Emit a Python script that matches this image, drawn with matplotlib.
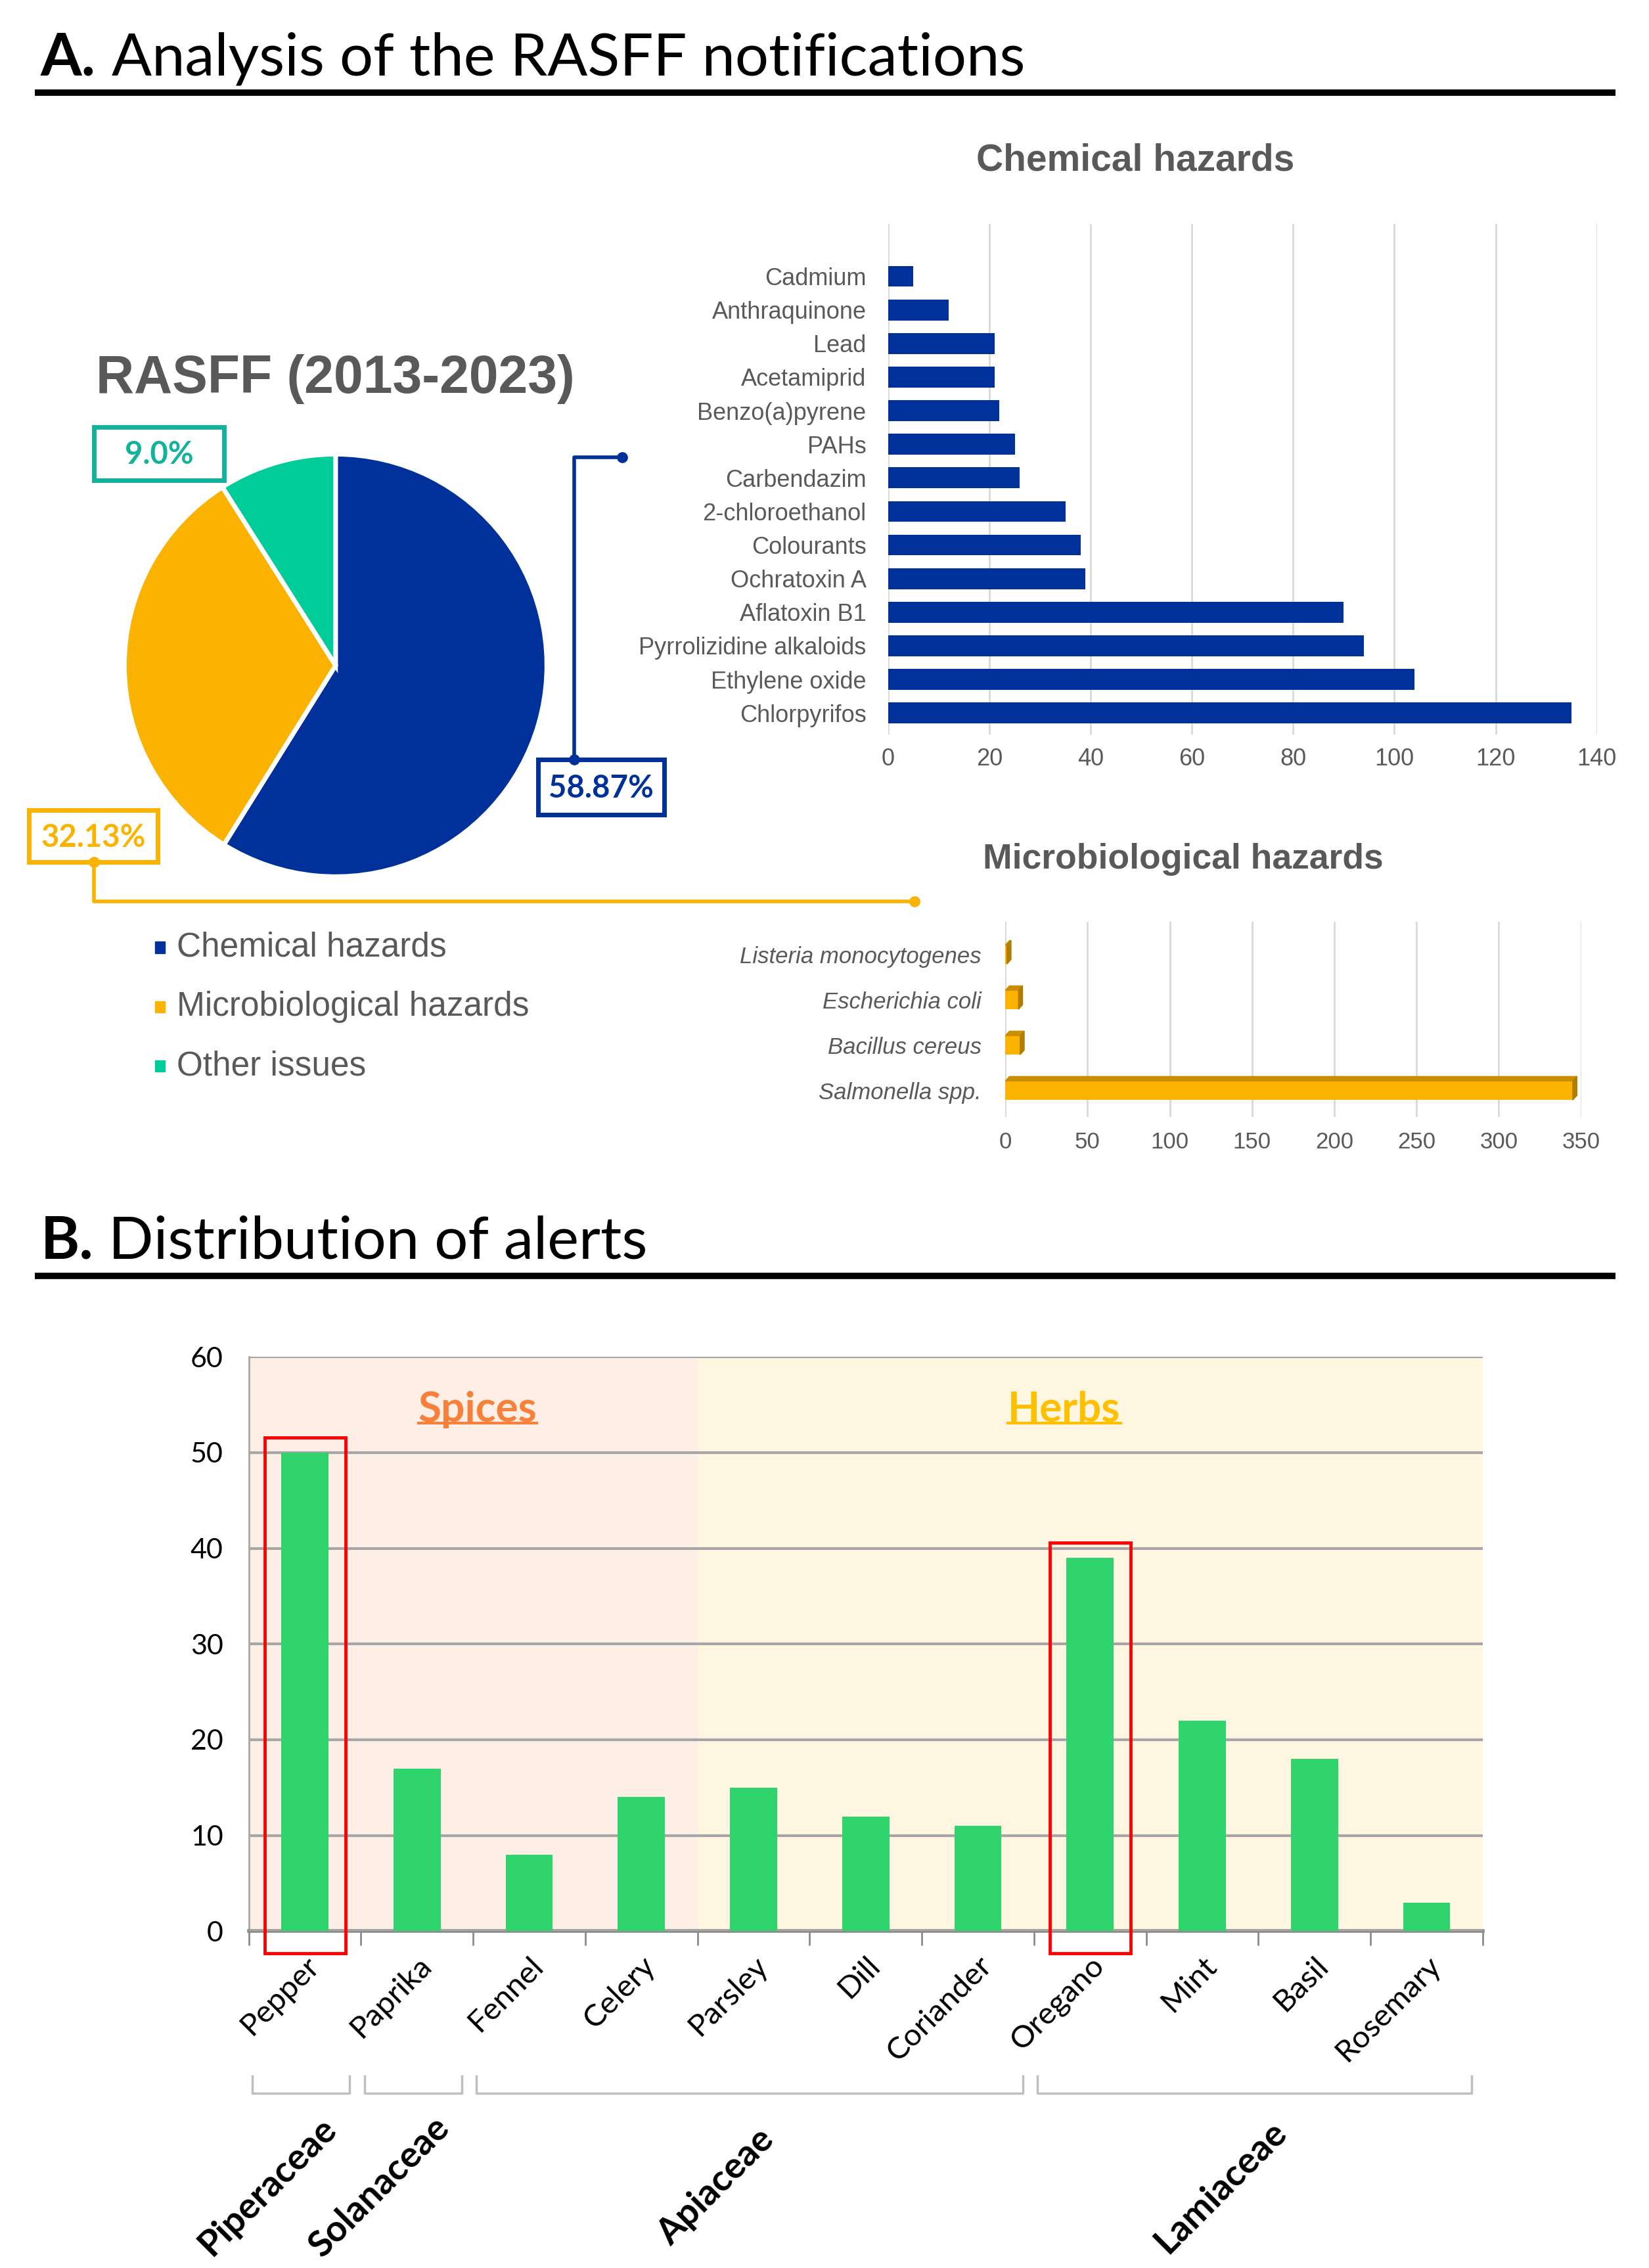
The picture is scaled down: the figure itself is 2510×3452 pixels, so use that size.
import matplotlib
matplotlib.use("Agg")
import matplotlib.pyplot as plt
import matplotlib.transforms as mtransforms
from matplotlib.patches import Rectangle, Polygon
from matplotlib.lines import Line2D
import numpy as np

# ---------------- data ----------------
pie_labels = ["Chemical hazards", "Microbiological hazards", "Other issues"]
pie_values = [58.87, 32.13, 9.0]
pie_texts = ["58.87%", "32.13%", "9.0%"]

chem_names = ["Cadmium", "Anthraquinone", "Lead", "Acetamiprid", "Benzo(a)pyrene",
              "PAHs", "Carbendazim", "2-chloroethanol", "Colourants", "Ochratoxin A",
              "Aflatoxin B1", "Pyrrolizidine alkaloids", "Ethylene oxide", "Chlorpyrifos"]
chem_counts = [5, 12, 21, 21, 22, 25, 26, 35, 38, 39, 90, 94, 104, 135]
chem_ticks = [0, 20, 40, 60, 80, 100, 120, 140]

micro_names = ["Listeria monocytogenes", "Escherichia coli", "Bacillus cereus", "Salmonella spp."]
micro_counts = [1, 8, 9, 345]
micro_ticks = [0, 50, 100, 150, 200, 250, 300, 350]

plants = ["Pepper", "Paprika", "Fennel", "Celery", "Parsley", "Dill", "Coriander",
          "Oregano", "Mint", "Basil", "Rosemary"]
alerts = [50, 17, 8, 14, 15, 12, 11, 39, 22, 18, 3]
alert_ticks = [0, 10, 20, 30, 40, 50, 60]
n_spices = 4
highlighted = ["Pepper", "Oregano"]
families = ["Piperaceae", "Solanaceae", "Apiaceae", "Lamiaceae"]
family_first = [0, 1, 2, 7]
family_last = [0, 1, 6, 10]

# ---------------- style ----------------
NAVY = "#00309A"
YELLOW = "#FBB300"
TEAL = "#00CC99"
TEAL_TXT = "#12B39A"
GREY = "#595959"
GREEN = "#30D46C"
TITLE_FONT = ["Lato", "DejaVu Sans"]
CHART_FONT = ["Liberation Sans", "DejaVu Sans"]

W, H = 2510, 3452
S = W / 1140.0          # reference layout units -> pixels


def box(l, t, r, b):
    return [l * S / W, 1 - b * S / H, (r - l) * S / W, (b - t) * S / H]


fig = plt.figure(figsize=(W / 100, H / 100), dpi=100)
fig.patch.set_facecolor("white")

# overlay axes in layout units (y downwards)
ov = fig.add_axes([0, 0, 1, 1])
ov.set_xlim(0, W / S)
ov.set_ylim(H / S, 0)
ov.axis("off")
ov.set_zorder(10)

# section headers
for y_text, y_line, head, rest, x_rest in [(52, 64, "A.", "Analysis of the RASFF notifications", 77),
                                           (870, 882, "B.", "Distribution of alerts", 75)]:
    ov.text(28, y_text, head, fontsize=65, fontweight="bold", family=TITLE_FONT, va="baseline")
    ov.text(x_rest, y_text, rest, fontsize=65, family=TITLE_FONT, va="baseline")
    ov.add_line(Line2D([24, 1117], [y_line, y_line], color="black", lw=7, solid_capstyle="butt"))

# ---------------- pie ----------------
ax_pie = fig.add_axes(box(86, 314, 378, 606))
ax_pie.pie(pie_values, colors=[NAVY, YELLOW, TEAL], startangle=90, counterclock=False,
           wedgeprops=dict(edgecolor="white", linewidth=5))
ax_pie.set_xlim(-1.0, 1.0)
ax_pie.set_ylim(-1.0, 1.0)
ax_pie.set_aspect("equal")

ov.text(232, 262, "RASFF (2013-2023)", fontsize=58, fontweight="bold", color=GREY,
        family=CHART_FONT, ha="center", va="center")

# label boxes + connectors
label_boxes = [(372, 525, 459, 563, NAVY, NAVY), (20, 560, 109, 596, YELLOW, YELLOW),
               (65, 295, 155, 332, TEAL_TXT, TEAL_TXT)]
for (l, t, r, b, ec, tc), txt in zip(label_boxes, pie_texts):
    ov.add_patch(Rectangle((l, t), r - l, b - t, fill=False, edgecolor=ec, lw=5))
    ov.text((l + r) / 2, (t + b) / 2 + 1, txt, fontsize=34, fontweight="bold", color=tc,
            family=TITLE_FONT, ha="center", va="center")

ov.plot([397, 397, 430], [525, 316, 316], color=NAVY, lw=4)
ov.plot([397, 430], [525, 316], "o", color=NAVY, ms=11)
ov.plot([65, 65, 632], [596, 623, 623], color=YELLOW, lw=4)
ov.plot([65, 632], [596, 623], "o", color=YELLOW, ms=11)

# legend
for lab, col, y in zip(pie_labels, [NAVY, YELLOW, TEAL], [655, 696, 737]):
    ov.add_patch(Rectangle((107, y - 4), 7, 8, color=col))
    ov.text(122, y, lab, fontsize=37, color=GREY, family=CHART_FONT, va="center")

# ---------------- chemical hazards ----------------
ax_c = fig.add_axes(box(614, 155, 1104, 508))
yc = np.arange(len(chem_names))
ax_c.barh(yc, chem_counts, height=0.62, color=NAVY, zorder=3)
ax_c.set_xlim(0, 140)
ax_c.set_ylim(len(chem_names) - 1 + 0.65, -1.55)
ax_c.set_xticks(chem_ticks)
ax_c.set_yticks(yc)
ax_c.set_yticklabels(chem_names)
ax_c.grid(axis="x", color="#D9D9D9", lw=2, zorder=0)
for sp in ax_c.spines.values():
    sp.set_visible(False)
ax_c.tick_params(axis="y", length=0, labelsize=26, labelcolor=GREY, pad=24)
ax_c.tick_params(axis="x", length=0, labelsize=26, labelcolor=GREY, pad=14)
for t in ax_c.get_xticklabels() + ax_c.get_yticklabels():
    t.set_family(CHART_FONT)
ax_c.set_facecolor("none")
ov.text(785, 111, "Chemical hazards", fontsize=41, fontweight="bold", color=GREY,
        family=CHART_FONT, ha="center", va="center")

# ---------------- microbiological hazards ----------------
ax_m = fig.add_axes(box(695, 637, 1093, 772))
ym = np.arange(len(micro_names))
bh = 0.42
dx, dy = 2.5, 0.1
ax_m.barh(ym, micro_counts, height=bh, color=YELLOW, zorder=3)
for y, v in zip(ym, micro_counts):
    top = y - bh / 2
    ax_m.add_patch(Polygon([(0, top), (v, top), (v + dx, top - dy), (dx, top - dy)],
                           closed=True, color="#C98F00", zorder=3))
    ax_m.add_patch(Polygon([(v, top), (v + dx, top - dy), (v + dx, y + bh / 2 - dy), (v, y + bh / 2)],
                           closed=True, color="#B07D00", zorder=3))
ax_m.set_xlim(0, 350)
ax_m.set_ylim(len(micro_names) - 1 + 0.58, -0.73)
ax_m.set_xticks(micro_ticks)
ax_m.set_yticks(ym)
ax_m.set_yticklabels(micro_names)
ax_m.grid(axis="x", color="#D9D9D9", lw=2, zorder=0)
for sp in ax_m.spines.values():
    sp.set_visible(False)
ax_m.tick_params(axis="y", length=0, labelsize=25, labelcolor=GREY, pad=26)
ax_m.tick_params(axis="x", length=0, labelsize=25, labelcolor=GREY, pad=16)
for t in ax_m.get_xticklabels():
    t.set_family(CHART_FONT)
for t in ax_m.get_yticklabels():
    t.set_family(CHART_FONT)
    t.set_style("italic")
ax_m.set_facecolor("none")
ov.text(818, 594, "Microbiological hazards", fontsize=38.5, fontweight="bold", color=GREY,
        family=CHART_FONT, ha="center", va="center")

# ---------------- B: distribution of alerts ----------------
ax_b = fig.add_axes(box(172, 938, 1025, 1335))
xb = np.arange(len(plants))
ax_b.axvspan(-0.5, n_spices - 0.5, color="#FDEEE6", zorder=0)
ax_b.axvspan(n_spices - 0.5, len(plants) - 0.5, color="#FEF6E1", zorder=0)
ax_b.bar(xb, alerts, width=0.42, color=GREEN, zorder=3)
ax_b.set_xlim(-0.5, len(plants) - 0.5)
ax_b.set_ylim(0, 60)
ax_b.set_yticks(alert_ticks)
ax_b.grid(axis="y", color="#A6A6A6", lw=3, zorder=1)
ax_b.set_axisbelow(False)
for sp in ["top", "right"]:
    ax_b.spines[sp].set_visible(False)
ax_b.spines["left"].set_color("#A6A6A6")
ax_b.spines["left"].set_linewidth(2)
ax_b.spines["bottom"].set_color("#8C8C8C")
ax_b.spines["bottom"].set_linewidth(4)
ax_b.set_xticks(xb)
ax_b.set_xticklabels(plants, rotation=45, ha="right", rotation_mode="anchor")
ax_b.set_xticks(np.arange(-0.5, len(plants)), minor=True)
ax_b.tick_params(axis="x", which="major", length=0, pad=22, labelsize=34)
ax_b.tick_params(axis="x", which="minor", length=16, width=2, color="#8C8C8C", direction="out")
ax_b.tick_params(axis="y", length=0, pad=28, labelsize=31)
for t in ax_b.get_xticklabels() + ax_b.get_yticklabels():
    t.set_family(TITLE_FONT)

# highlight boxes around selected bars
for name in highlighted:
    i = plants.index(name)
    ax_b.add_patch(Rectangle((i - 0.36, -2.3), 0.72, alerts[i] + 2.3 + 1.6, fill=False,
                             edgecolor="#FF0000", lw=3.5, clip_on=False, zorder=5))

# group titles
sp_t = ax_b.text((n_spices - 1) / 2 + 0.04, 54.5, "Spices", fontsize=46, fontweight="bold",
                 color="#F7813A", family=TITLE_FONT, ha="center", va="center")
hb_t = ax_b.text((n_spices + len(plants) - 1) / 2 - 0.23, 54.5, "Herbs", fontsize=46,
                 fontweight="bold", color="#FFC000", family=TITLE_FONT, ha="center", va="center")

# family brackets
trans = mtransforms.blended_transform_factory(ax_b.transData, ax_b.transAxes)
for fam, a, b in zip(families, family_first, family_last):
    x0, x1 = a - 0.47, b + 0.4
    ax_b.plot([x0, x0, x1, x1], [-0.252, -0.282, -0.282, -0.252], color="#BFBFBF", lw=2.5,
              transform=trans, clip_on=False)
    ax_b.text((x0 + x1) / 2 - 0.3, -0.445, fam, rotation=45, fontsize=40, fontweight="bold",
              family=TITLE_FONT, ha="center", va="center", transform=trans)

# underline group titles
fig.canvas.draw()
inv = fig.transFigure.inverted()
for t, col in [(sp_t, "#F7813A"), (hb_t, "#FFC000")]:
    bb = t.get_window_extent()
    (x0, y0), (x1, y1) = inv.transform([(bb.x0, bb.y0 + 8), (bb.x1, bb.y0 + 8)])
    fig.add_artist(Line2D([x0, x1], [y0, y1], color=col, lw=3, transform=fig.transFigure))

fig.savefig("out.png", dpi=100)
